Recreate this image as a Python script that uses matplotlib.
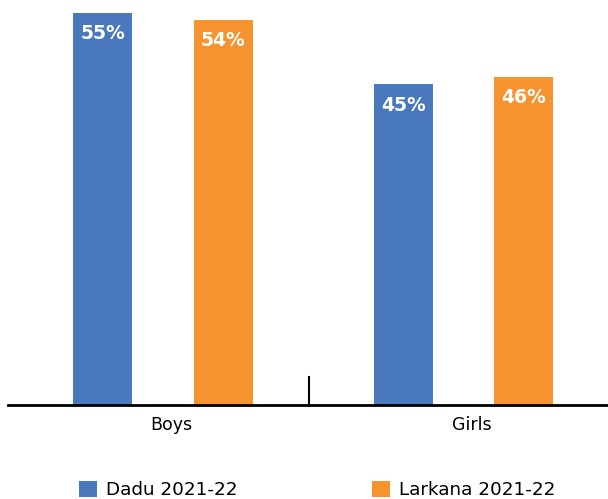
import numpy as np
import matplotlib
matplotlib.use('Agg')
import matplotlib.pyplot as plt
from matplotlib.transforms import ScaledTranslation

categories = ['Boys', 'Girls']
series_names = ['Dadu 2021-22', 'Larkana 2021-22']
dadu = [55, 45]
larkana = [54, 46]
colors = ['#4A78BD', '#F7932F']

fig = plt.figure(figsize=(6.08, 4.99), dpi=100)
ax = fig.add_axes([8 / 608, 94 / 499, 600 / 608, 405 / 499])

x = np.arange(len(categories))
w = 0.196
off = 0.2
b1 = ax.bar(x - off, dadu, w, color=colors[0], label=series_names[0])
b2 = ax.bar(x + off, larkana, w, color=colors[1], label=series_names[1])

for bars, vals in ((b1, dadu), (b2, larkana)):
    for rect, v in zip(bars, vals):
        ax.text(rect.get_x() + rect.get_width() / 2, v - 1.6, f'{v}%',
                ha='center', va='top', color='white', fontsize=13.5,
                fontweight='bold')

ax.set_xlim(-0.515, 1.48)
ax.set_ylim(0, 56.8)

for s in ['top', 'right', 'left']:
    ax.spines[s].set_visible(False)
ax.spines['bottom'].set_linewidth(2)
ax.spines['bottom'].set_color('black')
ax.set_yticks([])

# divider tick between the two groups
ax.plot([0.485, 0.485], [0, 3.9], color='black', lw=1.5)

ax.set_xticks(x)
ax.set_xticklabels(categories, fontsize=12.5)
ax.tick_params(axis='x', length=0, pad=8)
for lbl in ax.get_xticklabels():
    lbl.set_transform(lbl.get_transform() + ScaledTranslation(8 / 100, 0, fig.dpi_scale_trans))

fig.legend(handles=[b1, b2], labels=series_names, loc='center left',
           bbox_to_anchor=(79 / 608, 9 / 499), ncol=2, frameon=False,
           fontsize=13.2, handlelength=1.0, handleheight=1.0,
           handletextpad=0.5, columnspacing=7.3, borderpad=0,
           borderaxespad=0)

fig.savefig('out.png', dpi=100)
